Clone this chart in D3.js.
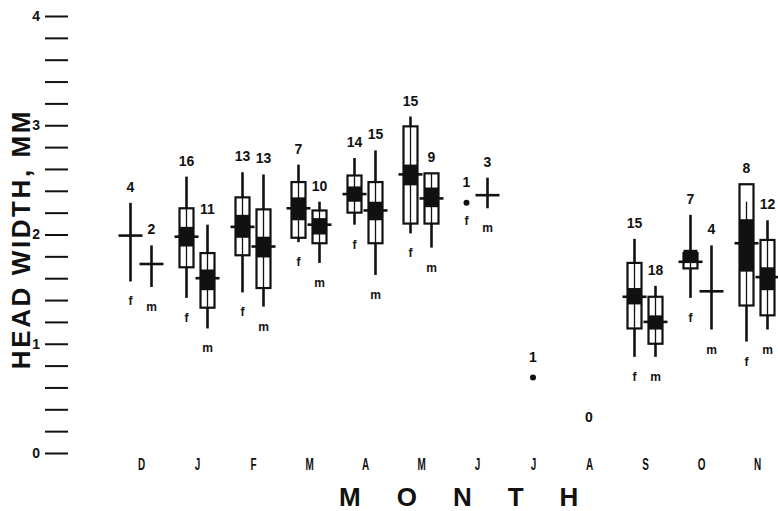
<!DOCTYPE html>
<html><head><meta charset="utf-8">
<script src="https://cdn.jsdelivr.net/npm/d3@7"></script>
<style>body{margin:0;background:#fff}svg{display:block}text{font-family:"Liberation Sans",Arial,Helvetica,sans-serif;fill:#111}</style>
</head><body>
<script>
// ---- data (head width, mm) ----
const months = ["D","J","F","M","A","M","J","J","A","S","O","N"];
const yTickLabels = ["0","1","2","3","4"];

// females
const fN      = [4, 16, 13, 7, 14, 15, 1, null, null, 15, 7, 8];
const fMean   = [1.99, 1.98, 2.07, 2.24, 2.37, 2.55, 2.29, null, null, 1.43, 1.75, 1.92];
const fMax    = [2.29, 2.53, 2.57, 2.64, 2.70, 3.08, null, null, null, 1.96, 2.18, 2.30];
const fMin    = [1.57, 1.42, 1.47, 1.93, 2.09, 2.01, null, null, null, 0.88, 1.42, 1.02];
const fBoxHi  = [null, 2.24, 2.34, 2.48, 2.54, 2.99, null, null, null, 1.74, 1.83, 2.46];
const fBoxLo  = [null, 1.70, 1.81, 1.97, 2.20, 2.10, null, null, null, 1.14, 1.69, 1.35];
const fSeHi   = [null, 2.07, 2.18, 2.34, 2.44, 2.64, null, null, null, 1.51, 1.86, 2.14];
const fSeLo   = [null, 1.89, 1.97, 2.13, 2.30, 2.45, null, null, null, 1.36, 1.74, 1.66];

// males
const mN      = [2, 11, 13, 10, 15, 9, 3, null, null, 18, 4, 12];
const mMean   = [1.73, 1.60, 1.89, 2.09, 2.22, 2.33, 2.36, null, null, 1.20, 1.48, 1.61];
const mMax    = [1.90, 2.09, 2.55, 2.30, 2.77, 2.56, 2.52, null, null, 1.53, 1.90, 2.13];
const mMin    = [1.52, 1.14, 1.34, 1.74, 1.63, 1.88, 2.24, null, null, 0.88, 1.13, 1.13];
const mBoxHi  = [null, 1.83, 2.23, 2.22, 2.48, 2.56, null, null, null, 1.43, null, 1.95];
const mBoxLo  = [null, 1.33, 1.51, 1.92, 1.92, 2.10, null, null, null, 1.00, null, 1.26];
const mSeHi   = [null, 1.68, 1.98, 2.15, 2.30, 2.43, null, null, null, 1.26, null, 1.70];
const mSeLo   = [null, 1.49, 1.79, 2.00, 2.13, 2.25, null, null, null, 1.13, null, 1.49];

// sexes not separated (July, August)
const uN      = [null, null, null, null, null, null, null, 1, 0, null, null, null];
const uValue  = [null, null, null, null, null, null, null, 0.69, null, null, null, null];

// ---- drawing ----
const W = 778, H = 511;
const svg = d3.select("body").append("svg").attr("width", W).attr("height", H);
const y = d3.scaleLinear().domain([0, 4]).range([453, 16]);
const x = d3.scalePoint().domain(d3.range(months.length)).range([141, 757]);
const sexOffset = { f: -10.5, m: 10.5 };
const boxW = 14, meanW = 24;

// y axis
const yTicks = d3.range(21).map(i => i / 5);
const yAxis = d3.axisLeft(y).tickValues(yTicks).tickSize(23).tickPadding(5)
  .tickFormat(d => Math.abs(d - Math.round(d)) < 1e-9 ? yTickLabels[Math.round(d)] : "");
const ya = svg.append("g").attr("transform", "translate(68,0)").call(yAxis);
ya.select(".domain").remove();
ya.selectAll(".tick line").attr("stroke", "#111").attr("stroke-width", 2);
ya.selectAll(".tick text").attr("font-size", 14).attr("font-weight", "bold")
  .style("font-family", "Liberation Sans, Arial, sans-serif").attr("fill", "#111");

// y title
svg.append("text")
  .attr("transform", "translate(30,239) rotate(-90)")
  .attr("text-anchor", "middle").attr("font-size", 26).attr("font-weight", "bold")
  .attr("letter-spacing", 2.6).text("HEAD WIDTH, MM");

// x axis (month letters)
const xAxis = d3.axisBottom(x).tickSize(0).tickPadding(0).tickFormat(i => months[i]);
const xa = svg.append("g").attr("transform", "translate(0,459)").call(xAxis);
xa.select(".domain").remove();
xa.selectAll(".tick text").attr("font-size", 16).attr("font-weight", "bold")
  .attr("fill", "#111").style("font-family", "Liberation Sans, Arial, sans-serif")
  .attr("transform", "scale(0.62,1)");

// x title
svg.append("text").attr("x", 339).attr("y", 506)
  .attr("font-size", 26).attr("font-weight", "bold").attr("letter-spacing", 36)
  .text("MONTH");

function records(sex, N, mean, mx, mn, bh, bl, sh, sl) {
  return months.map((_, i) => ({ i, sex, n: N[i], mean: mean[i], max: mx[i], min: mn[i],
    boxHi: bh[i], boxLo: bl[i], seHi: sh[i], seLo: sl[i] }))
    .filter(d => d.n != null && d.mean != null);
}
const recs = records("f", fN, fMean, fMax, fMin, fBoxHi, fBoxLo, fSeHi, fSeLo)
  .concat(records("m", mN, mMean, mMax, mMin, mBoxHi, mBoxLo, mSeHi, mSeLo));

const g = svg.append("g");
recs.forEach(d => {
  const cx = x(d.i) + sexOffset[d.sex];
  const gg = g.append("g");
  let topV = d.mean, botV = d.mean;
  if (d.max == null) {
    gg.append("circle").attr("cx", cx).attr("cy", y(d.mean)).attr("r", 3).attr("fill", "#111");
  } else {
    topV = Math.max(d.max, d.boxHi ?? -1);
    botV = Math.min(d.min, d.boxLo ?? 9);
    gg.append("line").attr("x1", cx).attr("x2", cx).attr("y1", y(d.max)).attr("y2", y(d.min))
      .attr("stroke", "#111").attr("stroke-width", 2.6);
    if (d.boxHi != null) {
      gg.append("rect").attr("x", cx - boxW / 2).attr("y", y(d.boxHi)).attr("width", boxW)
        .attr("height", y(d.boxLo) - y(d.boxHi)).attr("fill", "#fff")
        .attr("stroke", "#111").attr("stroke-width", 2.2);
      gg.append("line").attr("x1", cx).attr("x2", cx)
        .attr("y1", y(Math.min(d.boxHi, d.max))).attr("y2", y(Math.max(d.boxLo, d.min)))
        .attr("stroke", "#111").attr("stroke-width", 1.3);
    }
    if (d.seHi != null) {
      gg.append("rect").attr("x", cx - boxW / 2).attr("y", y(d.seHi)).attr("width", boxW)
        .attr("height", y(d.seLo) - y(d.seHi)).attr("fill", "#111");
    }
    gg.append("line").attr("x1", cx - meanW / 2).attr("x2", cx + meanW / 2)
      .attr("y1", y(d.mean)).attr("y2", y(d.mean))
      .attr("stroke", "#111").attr("stroke-width", 2.6);
  }
  const off = d.max == null ? 16 : 11;
  gg.append("text").attr("x", cx).attr("y", y(topV) - off).attr("text-anchor", "middle")
    .attr("font-size", 14).attr("font-weight", "bold").text(d.n);
  gg.append("text").attr("x", cx).attr("y", y(botV) + (d.max == null ? 22 : 24))
    .attr("text-anchor", "middle").attr("font-size", 12).attr("font-weight", "bold").text(d.sex);
});

// unsexed months
months.forEach((_, i) => {
  if (uN[i] == null) return;
  const cx = x(i);
  if (uValue[i] != null) {
    g.append("circle").attr("cx", cx).attr("cy", y(uValue[i])).attr("r", 3).attr("fill", "#111");
    g.append("text").attr("x", cx).attr("y", y(uValue[i]) - 16).attr("text-anchor", "middle")
      .attr("font-size", 14).attr("font-weight", "bold").text(uN[i]);
  } else {
    g.append("text").attr("x", cx).attr("y", y(0.33) + 5).attr("text-anchor", "middle")
      .attr("font-size", 14).attr("font-weight", "bold").text(uN[i]);
  }
});
</script>
</body></html>
